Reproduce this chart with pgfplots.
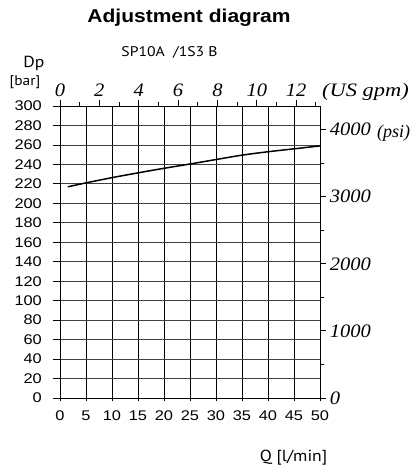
\documentclass[border=0pt]{standalone}
\usepackage{fontspec}
\setmainfont{Liberation Sans}
\newfontfamily\tms{Liberation Serif}
\newfontfamily\myr{PT Sans}
\usepackage{pgfplots}
\pgfplotsset{compat=1.18}
\begin{document}
\begin{tikzpicture}[x=1pt,y=1pt]
\path[use as bounding box] (0,0) rectangle (414,466);
\begin{axis}[
  at={(60pt,68pt)}, anchor=south west,
  scale only axis, width=260pt, height=292pt,
  xmin=0, xmax=50, ymin=0, ymax=300,
  xtick={0,5,...,50}, ytick={0,20,...,300},
  xtick pos=bottom, ytick pos=left,
  xtick align=center, ytick align=outside,
  major tick length=7pt,
  grid=major,
  x grid style={black, line width=0.8pt},
  y grid style={black!75, line width=0.8pt},
  axis line style={black, line width=0.8pt},
  tick style={black, line width=0.8pt},
  /pgf/number format/assume math mode=true,
  ticklabel style={font=\fontsize{14}{14}\selectfont, xscale=1.17},
  xticklabel style={yshift=-6pt},
  yticklabel style={xshift=-6pt},
]
\addplot[black, line width=1.5pt, smooth] coordinates {
(1.5,217) (5,221) (10,226.4) (15,231.3) (20,236) (25,240.4) (30,245) (35,249.5) (40,253) (45,256) (50,259)
};
\end{axis}
\begin{axis}[
  at={(60pt,68pt)}, anchor=south west,
  scale only axis, width=260pt, height=292pt,
  xmin=0, xmax=13.2086, ymin=0, ymax=4351.1,
  axis x line*=top, axis y line*=right,
  xtick={0,2,...,12}, ytick={0,1000,...,4000},
  minor xtick={1,3,...,13}, minor ytick={500,1500,...,3500},
  xtick align=outside, ytick align=outside,
  major tick length=6pt, minor tick length=4pt,
  axis line style={black, line width=0.8pt, -},
  tick style={black, line width=0.8pt},
  /pgf/number format/assume math mode=true,
  /pgf/number format/1000 sep={},
  ticklabel style={font=\tms\itshape\fontsize{19}{19}\selectfont, xscale=1.08},
]
\end{axis}
\node[font=\bfseries\fontsize{18.6}{18.6}\selectfont, anchor=base, xscale=1.13] at (189,443) {Adjustment diagram};
\node[font=\myr\fontsize{14}{14}\selectfont, anchor=base, xscale=1.12] at (169.5,409) {SP10A\ \ /1S3 B};
\node[font=\myr\fontsize{16}{16}\selectfont, anchor=base, xscale=1.1] at (34,398) {Dp};
\node[font=\myr\fontsize{14}{14}\selectfont, anchor=base, xscale=1.1] at (25,380) {[bar]};
\node[font=\myr\fontsize{16}{16}\selectfont, anchor=base, xscale=1.1] at (293.5,5) {Q [l/min]};
\node[font=\tms\itshape\fontsize{19}{19}\selectfont, anchor=base west, inner sep=0pt, xscale=1.18] at (322,369) {(US gpm)};
\node[font=\tms\itshape\fontsize{18}{18}\selectfont, anchor=base west, inner sep=0pt] at (377,328) {(psi)};
\end{tikzpicture}
\end{document}
